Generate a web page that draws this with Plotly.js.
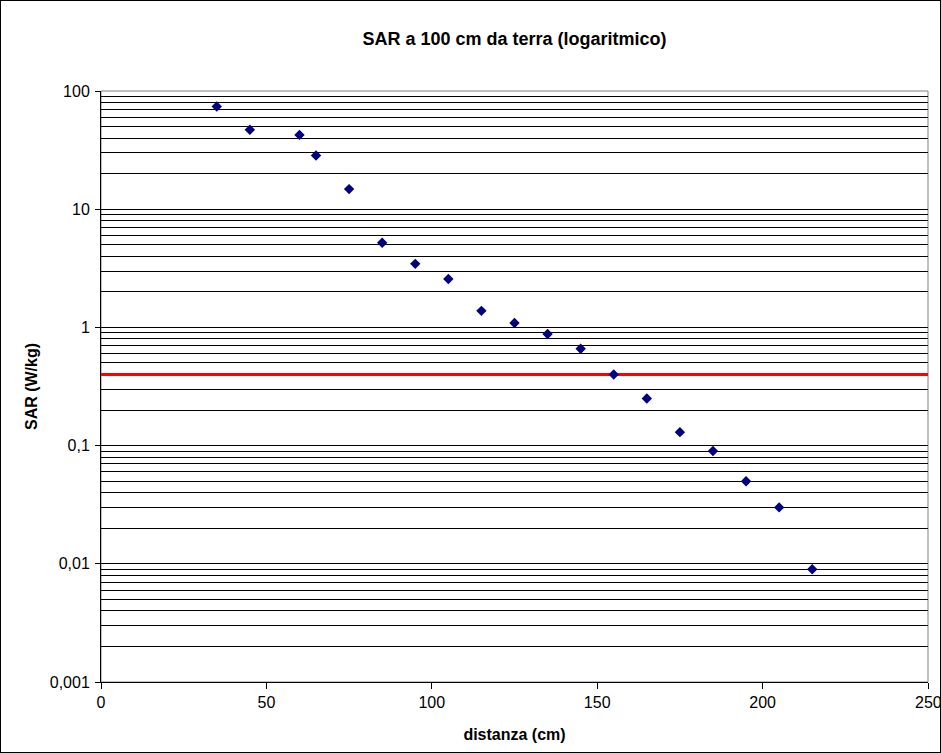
<!DOCTYPE html>
<html>
<head>
<meta charset="utf-8">
<script src="https://cdn.plot.ly/plotly-3.0.1.min.js"></script>
<style>
html,body{margin:0;padding:0;background:#fff;}
#wrap{position:relative;width:941px;height:753px;}
#wrap::after{content:"";position:absolute;left:0;top:0;right:0;bottom:0;border:1px solid #000;pointer-events:none;}
#chart{width:941px;height:753px;}
</style>
</head>
<body>
<div id="wrap"><div id="chart"></div></div>
<script>
const distanza = [35, 45, 60, 65, 75, 85, 95, 105, 115, 125, 135, 145, 155, 165, 175, 185, 195, 205, 215];
const sar = [74, 47, 42.5, 28.5, 14.8, 5.2, 3.45, 2.57, 1.38, 1.09, 0.88, 0.66, 0.4, 0.25, 0.13, 0.09, 0.05, 0.03, 0.009];
const limitX = [0, 250];
const limitY = [0.4, 0.4];
const yTickVals = [0.001, 0.01, 0.1, 1, 10, 100];
const yTickText = ["0,001", "0,01", "0,1", "1", "10", "100"];
const xTickVals = [0, 50, 100, 150, 200, 250];

const minorVals = [];
for (let e = -3; e < 2; e++) {
  for (let m = 2; m <= 9; m++) minorVals.push(m * Math.pow(10, e));
}

const fam = "Liberation Sans, Arial, sans-serif";

const traces = [
  {
    x: limitX, y: limitY, type: "scatter", mode: "lines",
    line: {color: "#ff0000", width: 3}, hoverinfo: "skip"
  },
  {
    x: distanza, y: sar, type: "scatter", mode: "markers",
    marker: {symbol: "diamond", size: 8, color: "#000080"}
  }
];

// last x tick label (at the right edge) drawn as annotation so it is not dropped at the paper edge
const lastX = xTickVals[xTickVals.length - 1];
const xTickText = xTickVals.map((v, i) => i === xTickVals.length - 1 ? "" : String(v));

const layout = {
  width: 941, height: 753,
  paper_bgcolor: "#fff", plot_bgcolor: "#fff",
  showlegend: false,
  margin: {l: 101, r: 13, t: 91, b: 71, pad: 0},
  font: {family: fam, size: 16, color: "#000"},
  title: {text: "SAR a 100 cm da terra (logaritmico)", x: 0.5, xanchor: "center", xref: "paper",
          y: 0.948, yanchor: "middle",
          font: {family: fam, size: 18, color: "#000", weight: "bold"}},
  xaxis: {
    range: [0, 250], tickvals: xTickVals, ticktext: xTickText,
    showgrid: false, zeroline: false,
    showline: true, linecolor: "#000", linewidth: 1,
    ticks: "outside", ticklen: 6, tickcolor: "#000",
    tickfont: {family: fam, size: 16, color: "#000"},
    title: {text: "distanza (cm)", font: {family: fam, size: 16, color: "#000", weight: "bold"}}
  },
  yaxis: {
    type: "log", range: [-3, 2],
    tickvals: yTickVals, ticktext: yTickText,
    showgrid: true, gridcolor: "#000", gridwidth: 1,
    zeroline: false,
    showline: true, linecolor: "#000", linewidth: 1,
    ticks: "outside", ticklen: 5, tickcolor: "#000",
    ticklabelstandoff: 2,
    tickfont: {family: fam, size: 16, color: "#000"},
    minor: {tickmode: "array", tickvals: minorVals, showgrid: true, gridcolor: "#000", gridwidth: 1, ticks: ""},
    title: {text: "SAR (W/kg)", standoff: 8, font: {family: fam, size: 16, color: "#000", weight: "bold"}}
  },
  annotations: [
    {x: lastX, xref: "x", y: 0, yref: "paper", text: String(lastX), showarrow: false,
     xanchor: "center", yanchor: "top", yshift: -11, borderpad: 0,
     font: {family: fam, size: 16, color: "#000"}}
  ],
  shapes: [
    {type: "rect", xref: "paper", yref: "paper", x0: 0, x1: 1, y0: 0, y1: 1,
     line: {color: "#808080", width: 1}, layer: "below"}
  ]
};

Plotly.newPlot("chart", traces, layout, {displayModeBar: false, staticPlot: true});
</script>
</body>
</html>
